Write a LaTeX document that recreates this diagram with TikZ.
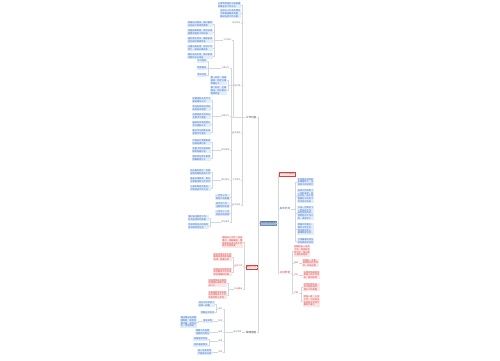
\documentclass[tikz,border=0pt]{standalone}
\usepackage{fontspec}
\newfontfamily\cjk{Noto Sans CJK SC}
\usepackage{tikz}
\definecolor{rootfill}{RGB}{160,184,224}
\definecolor{rootdraw}{RGB}{110,140,195}
\definecolor{bluetxt}{RGB}{50,105,195}
\definecolor{leafbg}{RGB}{226,237,252}
\definecolor{redtxt}{RGB}{222,62,62}
\definecolor{redbg}{RGB}{252,230,230}
\definecolor{headtxt}{RGB}{60,70,90}
\definecolor{lbltxt}{RGB}{120,130,150}
\definecolor{linkgray}{RGB}{210,215,222}

\begin{document}
\begin{tikzpicture}[
    x=1pt, y=-1pt,
    root/.style={draw=rootdraw, fill=rootfill, text=headtxt, inner sep=0.8pt, font=\cjk\fontsize{2.4}{2.8}\selectfont},
    redhead/.style={draw=redtxt, fill=redbg, text=redtxt, inner sep=0.7pt, line width=0.3pt, font=\cjk\fontsize{2.4}{2.8}\selectfont},
    headnode/.style={text=headtxt, inner sep=0.5pt, font=\cjk\fontsize{2.6}{3}\selectfont},
    lbl/.style={text=lbltxt, inner sep=0.4pt, font=\cjk\fontsize{2}{2.4}\selectfont},
    leaf/.style={text=bluetxt, fill=leafbg, align=left, inner sep=0.6pt, font=\cjk\fontsize{2.2}{2.7}\selectfont},
    redleaf/.style={leaf, text=redtxt, fill=redbg},
    conn/.style={draw=linkgray, line width=0.3pt}
]
    \useasboundingbox (0,0) rectangle (500,360);

    % Root
    \node[root, anchor=west] (root) at (260,223) {工作计划范文};

    % Left main branches
    \node[headnode, anchor=east] (A) at (257,117) {工作内容};
    \node[redhead, anchor=east] (B) at (257,267) {重点工作};
    \node[headnode, anchor=east] (C) at (257,332) {保障措施};

    % Right main branches
    \node[redhead, anchor=west] (R1) at (279,174) {工作计划概述};
    \node[headnode, text=bluetxt, anchor=west] (R2) at (279,209) {具体安排};
    \node[headnode, text=redtxt, anchor=west] (R3) at (279,273) {总结展望};

    % Branch A
    \node[leaf, anchor=east] (c1) at (241,5) {认真贯彻落实上级部署\\明确全年工作方向};
    \node[leaf, anchor=east] (c2) at (241,13.5) {坚持以人为本的理念\\不断提高服务质量\\推动各项工作开展};
    \node[lbl, anchor=east] (c3) at (241,23) {指导思想};
    \node[lbl, anchor=east] (c4) at (232,40) {工作目标};
    \node[lbl, anchor=east] (c5) at (230,68) {主要任务};
    \node[lbl, anchor=east] (c6) at (241,85.5) {实施步骤};
    \node[lbl, anchor=east] (c7) at (241,133) {具体措施};
    \node[lbl, anchor=east] (c8) at (241,180) {工作要求};
    \node[lbl, anchor=east] (c9) at (241,205) {时间安排};
    \node[lbl, anchor=east] (c10) at (230,222) {其他事项};

    \node[leaf, anchor=east] (c4a) at (213,24) {加强队伍建设，提升整体\\业务能力和综合素质};
    \node[leaf, anchor=east] (c4b) at (213,32) {完善规章制度，规范日常\\管理流程和工作标准};
    \node[leaf, anchor=east] (c4c) at (213,40) {强化责任意识，确保各项\\任务按时保质完成};
    \node[leaf, anchor=east] (c4d) at (213,48) {注重沟通协调，形成工作\\合力，提高办事效率};
    \node[leaf, anchor=east] (c4e) at (213,56) {做好总结反思，及时发现\\问题并加以改进};

    \node[leaf, anchor=east] (c5a) at (207,61) {学习培训};
    \node[leaf, anchor=east] (c5b) at (207,68) {制度建设};
    \node[leaf, anchor=east] (c5c) at (207,75) {考核评估};

    \node[leaf, anchor=east] (c6a) at (227,80.5) {第一阶段：调研\\摸底，制定方案\\明确分工};
    \node[leaf, anchor=east] (c6b) at (227,90.5) {第二阶段：全面\\推进，抓好落实\\跟踪检查};

    \node[lbl, anchor=east] (d1) at (230,116) {加强学习};
    \node[lbl, anchor=east] (d2) at (230,150) {规范管理};
    \node[leaf, anchor=east] (d1a) at (211,100) {定期组织业务学习\\提高理论水平};
    \node[leaf, anchor=east] (d1b) at (211,108) {参加各类培训活动\\拓宽知识视野};
    \node[leaf, anchor=east] (d1c) at (211,116) {开展经验交流会议\\互相学习借鉴};
    \node[leaf, anchor=east] (d1d) at (211,124) {鼓励自学深造提升\\专业技能水平};
    \node[leaf, anchor=east] (d1e) at (211,132) {建立学习档案记录\\督促学习落实};
    \node[leaf, anchor=east] (d2a) at (211,142) {严格执行考勤制度\\加强纪律约束};
    \node[leaf, anchor=east] (d2b) at (211,150) {完善工作台账资料\\做到有据可查};
    \node[leaf, anchor=east] (d2c) at (211,158) {落实岗位责任制度\\明确职责分工};

    \node[lbl, anchor=east] (d3) at (230,180) {提升服务};
    \node[leaf, anchor=east] (d3a) at (211,172) {树立服务意识，热情\\周到地做好接待工作};
    \node[leaf, anchor=east] (d3b) at (211,180) {提高办事效率，简化\\办事程序和工作环节};
    \node[leaf, anchor=east] (d3c) at (211,188) {认真听取意见建议，\\不断改进工作方法};

    \node[leaf, anchor=east] (c9a) at (230,197) {一月至三月：\\制定计划部署};
    \node[leaf, anchor=east] (c9b) at (230,205) {四月至九月：\\全面组织实施};
    \node[leaf, anchor=east] (c9c) at (230,213) {十月至十二月\\检查总结验收};

    \node[leaf, anchor=east] (c10a) at (209,218) {做好安全稳定工作，\\防范各类风险隐患};
    \node[leaf, anchor=east] (c10b) at (209,226) {完成领导交办的其他\\各项临时性任务};

    % Branch B
    \node[redleaf, anchor=east] (e1) at (243,242) {围绕中心工作，突出\\重点，统筹兼顾，整\\体推进各项业务工作\\稳步向前发展};
    \node[lbl, text=redtxt, anchor=east] (e2) at (243,266) {业务工作};
    \node[lbl, text=redtxt, anchor=east] (e3) at (243,289) {队伍建设};
    \node[redleaf, anchor=east] (e2a) at (232,257) {抓好日常业务工作\\确保各项指标按期\\完成，质量达标};
    \node[redleaf, anchor=east] (e2b) at (232,272) {加强业务指导检查\\及时解决工作中出\\现的困难和问题};
    \node[redleaf, anchor=east] (e3a) at (227,283) {加强思想政治教育\\增强团队凝聚力和\\战斗力};
    \node[redleaf, anchor=east] (e3b) at (227,295) {完善激励考核机制\\充分调动员工工作\\积极性和主动性};

    % Branch C
    \node[lbl, anchor=east] (f) at (242,332) {组织保障};
    \node[lbl, anchor=east] (g1) at (223,309) {组织};
    \node[lbl, anchor=east] (g2) at (223,321) {制度};
    \node[lbl, anchor=east] (g3) at (223,332) {经费};
    \node[lbl, anchor=east] (g4) at (223,341) {监督};
    \node[lbl, anchor=east] (g5) at (223,352) {考核};
    \node[leaf, anchor=east] (g1a) at (215,304) {成立工作领导小\\组统一部署};
    \node[leaf, anchor=east] (g1b) at (215,312.5) {定期召开会议};
    \node[leaf, anchor=east] (h1) at (213,321) {健全机制};
    \node[leaf, anchor=east] (h1a) at (197,322) {建立健全各项管\\理制度，做到有\\章可循，规范运\\作，有序推进};
    \node[leaf, anchor=east] (g3a) at (210,332) {保障工作经费\\足额及时到位};
    \node[leaf, anchor=east] (g4a) at (208,339) {加强督促检查};
    \node[leaf, anchor=east] (g4b) at (208,345) {及时通报情况};
    \node[leaf, anchor=east] (g5a) at (212,352) {纳入年度考核\\严格奖惩兑现};

    % Branch R2
    \node[leaf, anchor=west] (k1) at (297,182) {本年度在领导的\\正确指导下，全\\体员工共同努力};
    \node[leaf, anchor=west] (k2) at (297,196) {各项工作取得了\\一定的成绩，但\\也存在一些不足\\需要在今后的工\\作中加以改进};
    \node[leaf, anchor=west] (k3) at (297,213) {为进一步做好下\\一阶段的工作，\\结合实际情况，\\特制定本工作计\\划，具体如下};
    \node[leaf, anchor=west] (k4) at (297,229) {明确工作重点，\\细化工作任务，\\责任落实到人，\\确保取得实效};
    \node[leaf, anchor=west] (k5) at (297,241) {力争圆满完成全\\年各项目标任务};

    % Branch R3
    \node[redleaf, anchor=west] (m1) at (293.5,251) {回顾过去一年的\\工作，有收获也\\有不足，我们将\\认真总结经验};
    \node[lbl, text=redtxt, anchor=west] (m2) at (293.5,263) {成绩};
    \node[lbl, text=redtxt, anchor=west] (m3) at (293.5,275) {不足};
    \node[lbl, text=redtxt, anchor=west] (m4) at (293.5,293) {打算};
    \node[redleaf, anchor=west] (m2a) at (302,263) {在新的一年里，\\继续发扬优良作\\风，开拓进取};
    \node[redleaf, anchor=west] (m3a) at (303,275) {以更加饱满的热\\情投入到工作中\\去，再创佳绩};
    \node[redleaf, anchor=west] (m4a) at (303,287) {坚持问题导向，\\补齐短板弱项，\\提升工作质量};
    \node[redleaf, anchor=west] (m4b) at (303,301) {团结一致，扎实\\工作，为实现全\\年目标任务而不\\懈努力奋斗};

    % Connectors, left side
    \foreach \n in {A,B,C} \draw[conn] (\n.east) -- ++(1.5,0) |- (root.west);
    \foreach \n in {c1,c2,c3,c4,c5,c6,c7,c8,c9,c10} \draw[conn] (\n.east) -- ++(1.5,0) |- (A.west);
    \foreach \n in {a,b,c,d,e} \draw[conn] (c4\n.east) -- ++(1.5,0) |- (c4.west);
    \foreach \n in {a,b,c} \draw[conn] (c5\n.east) -- ++(1.5,0) |- (c5.west);
    \foreach \n in {a,b} \draw[conn] (c6\n.east) -- ++(1.5,0) |- (c6.west);
    \foreach \n in {d1,d2} \draw[conn] (\n.east) -- ++(1.5,0) |- (c7.west);
    \foreach \n in {a,b,c,d,e} \draw[conn] (d1\n.east) -- ++(1.5,0) |- (d1.west);
    \foreach \n in {a,b,c} \draw[conn] (d2\n.east) -- ++(1.5,0) |- (d2.west);
    \draw[conn] (d3.east) -- (c8.west);
    \foreach \n in {a,b,c} \draw[conn] (d3\n.east) -- ++(1.5,0) |- (d3.west);
    \foreach \n in {a,b,c} \draw[conn] (c9\n.east) -- ++(1.5,0) |- (c9.west);
    \foreach \n in {a,b} \draw[conn] (c10\n.east) -- ++(1.5,0) |- (c10.west);
    \foreach \n in {e1,e2,e3} \draw[conn] (\n.east) -- ++(1.5,0) |- (B.west);
    \foreach \n in {a,b} \draw[conn] (e2\n.east) -- ++(1.5,0) |- (e2.west);
    \foreach \n in {a,b} \draw[conn] (e3\n.east) -- ++(1.5,0) |- (e3.west);
    \draw[conn] (f.east) -- (C.west);
    \foreach \n in {g1,g2,g3,g4,g5} \draw[conn] (\n.east) -- ++(1.5,0) |- (f.west);
    \foreach \n in {a,b} \draw[conn] (g1\n.east) -- ++(1.5,0) |- (g1.west);
    \draw[conn] (h1.east) -- (g2.west);
    \draw[conn] (h1a.east) -- ++(1.5,0) |- (h1.west);
    \draw[conn] (g3a.east) -- (g3.west);
    \foreach \n in {a,b} \draw[conn] (g4\n.east) -- ++(1.5,0) |- (g4.west);
    \draw[conn] (g5a.east) -- (g5.west);

    % Connectors, right side
    \foreach \n in {R1,R2,R3} \draw[conn] (\n.west) -- ++(-1,0) |- (root.east);
    \foreach \n in {k1,k2,k3,k4,k5} \draw[conn] (\n.west) -- ++(-2,0) |- (R2.east);
    \foreach \n in {m1,m2,m3,m4} \draw[conn] (\n.west) -- ++(-1.5,0) |- (R3.east);
    \draw[conn] (m2a.west) -- (m2.east);
    \draw[conn] (m3a.west) -- (m3.east);
    \foreach \n in {a,b} \draw[conn] (m4\n.west) -- ++(-1.5,0) |- (m4.east);
\end{tikzpicture}
\end{document}
